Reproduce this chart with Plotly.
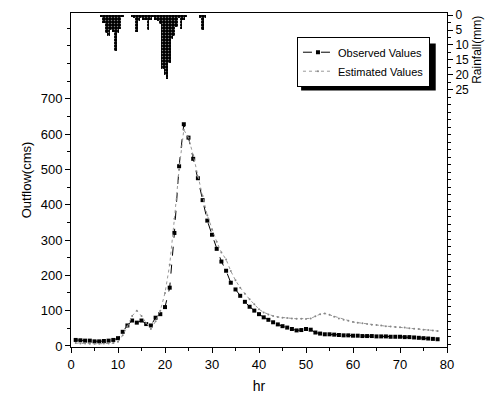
import plotly.graph_objects as go

# ---------------- data ----------------
hours = list(range(1, 79))
observed = [17, 16, 15, 15, 13, 13, 14, 15, 17, 22,
            40, 58, 72, 66, 72, 62, 58, 80, 90, 110,
            165, 320, 509, 628, 590, 530, 475, 413, 355, 315,
            275, 239, 213, 179, 160, 142, 125, 111, 100, 90,
            81, 74, 67, 61, 56, 52, 48, 44, 45, 48,
            46, 38, 35, 33, 33, 32, 31, 30, 30, 29,
            29, 28, 28, 28, 27, 27, 27, 26, 26, 26,
            25, 25, 24, 23, 22, 21, 20, 19]
estimated = [8, 7, 7, 6, 6, 6, 7, 7, 8, 12,
             30, 55, 85, 100, 85, 65, 48, 70, 100, 150,
             230, 360, 500, 612, 590, 540, 480, 425, 370, 330,
             295, 265, 245, 212, 186, 165, 148, 132, 118, 104,
             95, 89, 85, 82, 80, 79, 78, 77, 77, 76,
             78, 84, 90, 92, 88, 83, 78, 74, 71, 68,
             66, 64, 62, 60, 59, 58, 56, 55, 54, 53,
             52, 50, 49, 48, 46, 45, 44, 42]
rain_time = [6.5, 7.0, 7.5, 8.0, 8.5, 9.0, 9.5, 10.0, 10.5, 11.0,
             13.0, 13.5, 14.0, 14.5, 15.0, 15.5, 16.0, 16.5, 17.0, 17.5,
             18.0, 18.5, 19.0, 19.5, 20.0, 20.5, 21.0, 21.5, 22.0, 22.5,
             23.0, 23.5, 24.0, 24.5, 27.5, 28.0, 28.5]
rain_mm = [0.5, 2.5, 6, 7, 5, 5.5, 12, 6, 4.5, 0.5,
           0.5, 1, 5.5, 2, 1, 1.5, 1.5, 5, 1.5, 0.6,
           1.5, 2, 3, 18, 20, 21.5, 16, 8, 7, 4,
           1, 4.5, 1.5, 0.5, 1, 5, 1]
x_ticks = [0, 10, 20, 30, 40, 50, 60, 70, 80]
y_ticks = [0, 100, 200, 300, 400, 500, 600, 700]
rain_ticks = [0, 5, 10, 15, 20, 25]

FONT = "Liberation Sans Narrow, Arial Narrow, Liberation Sans, sans-serif"

fig = go.Figure()
fig.add_trace(go.Bar(
    x=rain_time, y=rain_mm, yaxis="y2", width=0.4, showlegend=False,
    marker=dict(color="black", line=dict(width=0),
                pattern=dict(shape=".", fgcolor="white", size=3, solidity=0.2)),
))
fig.add_trace(go.Scatter(
    x=hours, y=observed, mode="lines+markers", name="Observed Values",
    line=dict(color="black", width=1, dash="dash"),
    marker=dict(symbol="square", size=4, color="black"),
))
fig.add_trace(go.Scatter(
    x=hours, y=estimated, mode="lines+markers", name="Estimated Values",
    line=dict(color="#999999", width=1, dash="dot"),
    marker=dict(symbol="circle", size=2, color="#888888"),
))

axis_common = dict(showgrid=False, zeroline=False, showline=True, linecolor="black",
                   linewidth=1, ticks="outside", tickcolor="black", ticklen=5,
                   tickfont=dict(family=FONT, size=13, color="black"))

fig.update_layout(
    width=490, height=399,
    margin=dict(l=71, r=43, t=8, b=52),
    paper_bgcolor="white", plot_bgcolor="white",
    font=dict(family=FONT, size=13, color="black"),
    bargap=0,
    xaxis=dict(range=[0, 80], tickvals=x_ticks, mirror=True,
               minor=dict(ticks="outside", ticklen=3, dtick=5, tickcolor="black"),
               title=dict(text="hr", font=dict(family=FONT, size=14), standoff=10),
               **axis_common),
    yaxis=dict(range=[-3, 943], tickvals=y_ticks,
               minor=dict(ticks="outside", ticklen=3, dtick=50, tickcolor="black"),
               title=dict(text="Outflow(cms)", font=dict(family=FONT, size=13), standoff=6),
               **axis_common),
    yaxis2=dict(overlaying="y", side="right", range=[111, -0.7], tickvals=rain_ticks,
                minor=dict(ticks="outside", ticklen=3, dtick=2.5, tickcolor="black"),
                **{**axis_common, "tickfont": dict(family=FONT, size=12, color="black")}),
    legend=dict(x=0.601, y=0.929, xanchor="left", yanchor="top",
                bgcolor="white", bordercolor="black", borderwidth=1,
                font=dict(family=FONT, size=11), tracegroupgap=0,
                itemwidth=30),
    shapes=[dict(type="rect", xref="paper", yref="paper",
                 x0=0.612, x1=0.970, y0=0.768, y1=0.909,
                 fillcolor="black", line=dict(width=0), layer="above")],
    annotations=[dict(text="Rainfall(mm)", xref="paper", yref="paper",
                      x=1.08, y=0.89, xanchor="center", yanchor="middle",
                      textangle=-90, showarrow=False,
                      font=dict(family=FONT, size=12))],
)

fig.write_html("out.html")
